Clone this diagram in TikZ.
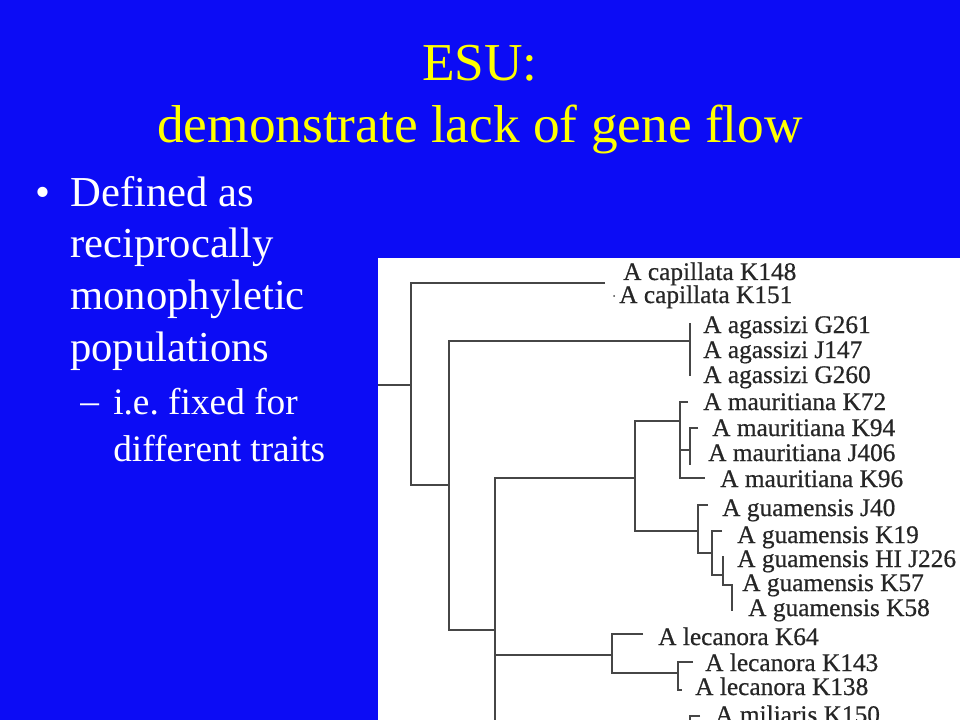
\documentclass[tikz,border=0pt]{standalone}
\usepackage{fontspec}
\setmainfont{Liberation Serif}
\newfontfamily\taxonfont[FakeBold=0.6]{Liberation Serif}
\definecolor{slideblue}{RGB}{12,12,245}
\definecolor{titleyellow}{RGB}{255,255,0}
\definecolor{treegray}{RGB}{70,70,70}

\begin{document}
\begin{tikzpicture}[x=0.75pt, y=-0.75pt,
    title/.style={font=\fontsize{40}{46.5}\selectfont, text=titleyellow, align=center, inner sep=0pt},
    bullettext/.style={font=\fontsize{32}{38.75}\selectfont, text=white, align=left, inner sep=0pt},
    subtext/.style={font=\fontsize{28}{35.25}\selectfont, text=white, align=left, inner sep=0pt},
    taxon/.style={font=\taxonfont\fontsize{19}{19}\selectfont, text=black!85, inner sep=0pt, anchor=base west},
    branch/.style={treegray, line width=1pt}]
    \fill[slideblue] (0,0) rectangle (960,720);

    \node[title, anchor=north] (title) at (480,45) {ESU:\\demonstrate lack of gene flow};

    \node[bullettext, anchor=base west] (dot) at (35,207) {\textbullet};
    \node[bullettext, anchor=north west] (defined) at (70,176) {Defined as\\reciprocally\\monophyletic\\populations};
    \node[subtext, anchor=base west] (dash) at (80,413) {--};
    \node[subtext, anchor=north west] (traits) at (113,388) {i.e.\ fixed for\\different traits};

    \fill[white] (378,258) rectangle (960,720);
    \begin{scope}
    \clip (378,258) rectangle (960,720);

    \node[taxon] (k148) at (623,280) {A capillata K148};
    \node[taxon] (k151) at (619,303) {A capillata K151};
    \node[taxon] (g261) at (703,333) {A agassizi G261};
    \node[taxon] (j147) at (703,358) {A agassizi J147};
    \node[taxon] (g260) at (703,383) {A agassizi G260};
    \node[taxon] (k72) at (703,410) {A mauritiana K72};
    \node[taxon] (k94) at (712,436) {A mauritiana K94};
    \node[taxon] (j406) at (708,461) {A mauritiana J406};
    \node[taxon] (k96) at (720,487) {A mauritiana K96};
    \node[taxon] (j40) at (722,516) {A guamensis J40};
    \node[taxon] (k19) at (737,543) {A guamensis K19};
    \node[taxon] (j226) at (737,567) {A guamensis HI J226};
    \node[taxon] (k57) at (742,591) {A guamensis K57};
    \node[taxon] (k58) at (748,616) {A guamensis K58};
    \node[taxon] (k64) at (658,645) {A lecanora K64};
    \node[taxon] (k143) at (705,671) {A lecanora K143};
    \node[taxon] (k138) at (695,695) {A lecanora K138};
    \node[taxon] (k150) at (715,723) {A miliaris K150};

    \draw[branch] (378,385) -- (411,385);
    \draw[branch] (605,283) -- (411,283) -- (411,485) -- (449,485);
    \fill[treegray] (614,296) circle (1);
    \draw[branch] (689,341) -- (449,341) -- (449,630) -- (495,630);
    \draw[branch] (690,323) -- (690,376);
    \draw[branch] (495,730) -- (495,478) -- (635,478);
    \draw[branch] (680,421) -- (635,421) -- (635,531) -- (698,531);

    \draw[branch] (688,402) -- (680,402) -- (680,478) -- (705,478);
    \draw[branch] (680,450) -- (690,450);
    \draw[branch] (698,428) -- (690,428) -- (690,465);

    \draw[branch] (708,505) -- (698,505) -- (698,553) -- (712,553);
    \draw[branch] (722,531) -- (712,531) -- (712,575) -- (723,575);
    \draw[branch] (723,556) -- (723,585) -- (732,585) -- (732,611);

    \draw[branch] (495,655) -- (612,655);
    \draw[branch] (643,634) -- (612,634) -- (612,673) -- (678,673);
    \draw[branch] (693,662) -- (678,662) -- (678,690) -- (682,690);
    \draw[branch] (700,716) -- (690,716) -- (690,730);
    \end{scope}
\end{tikzpicture}
\end{document}
